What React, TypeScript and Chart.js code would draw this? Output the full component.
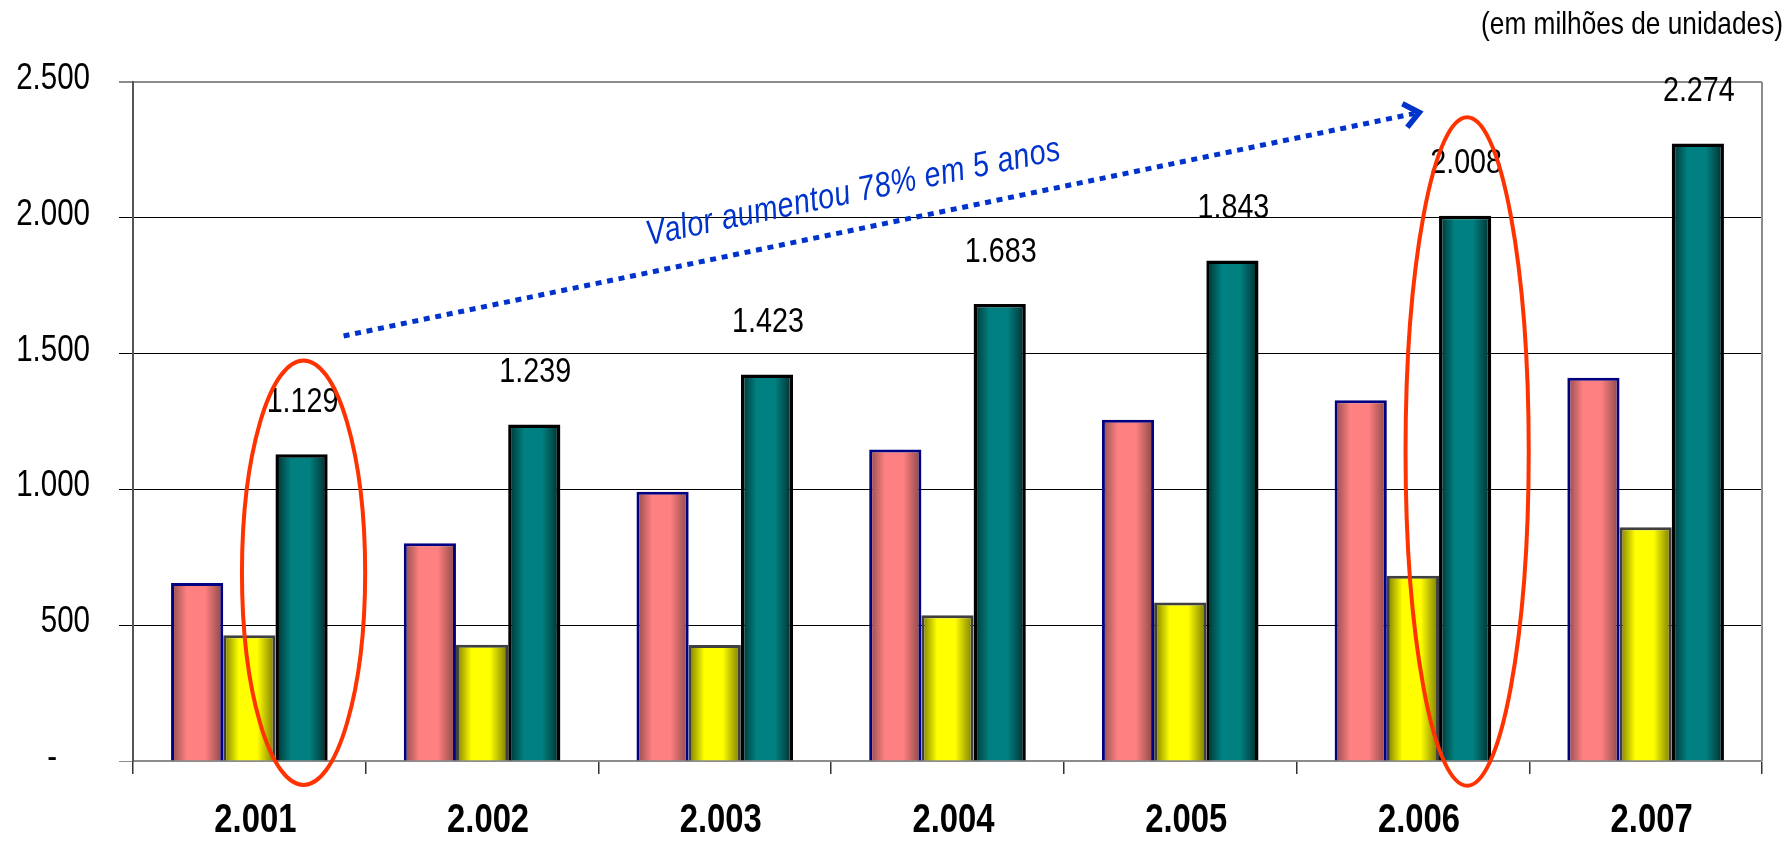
import React, { useEffect, useRef } from 'react';
import { Chart, registerables } from 'chart.js';

Chart.register(...registerables);

// ---- data ----
const years = ['2.001', '2.002', '2.003', '2.004', '2.005', '2.006', '2.007'];
const seriesPink = [655, 802, 991, 1147, 1256, 1328, 1411];
const seriesYellow = [463, 428, 427, 537, 584, 682, 861];
const seriesTeal = [1129, 1239, 1423, 1683, 1843, 2008, 2274];
const yMin = 0;
const yMax = 2500;
const yStep = 500;
const unitsNote = '(em milhões de unidades)';
const arrowNote = 'Valor aumentou 78% em 5 anos';
// annotations (category index, value)
const highlightedYears = [0, 5];
const ellipseTop = [1475, 2370];
const ellipseBottom = [-88, -91];
const arrowStart = [0.405, 1565];
const arrowEnd = [5.04, 2390];
const noteAnchor = [1.715, 1899];

const FONT = '"Liberation Sans", Arial, sans-serif';
// Liberation Sans squeezed horizontally to mimic Arial Narrow
const NARROW = 0.82;

const fmt = (n: number) => String(Math.round(n)).replace(/\B(?=(\d{3})+(?!\d))/g, '.');

const gradientColors = [
  ['#8a4a4a', '#ff8080', '#874545'],
  ['#7a7a00', '#ffff00', '#777700'],
  ['#002e2e', '#008080', '#002a2a'],
];

const narrowTextPlugin = {
  id: 'narrowText',
  beforeInit(chart: any) {
    const ctx = chart.ctx;
    const orig = ctx.fillText.bind(ctx);
    ctx.fillText = (t: string, x: number, y: number, mw?: number) => {
      const w = ctx.measureText(t).width;
      if (!w) return;
      const target = w * NARROW;
      orig(t, x, y, mw !== undefined ? Math.min(mw, target) : target);
    };
  },
};

const decoPlugin = {
  id: 'deco',
  beforeDatasetsDraw(chart: any) {
    const ctx = chart.ctx;
    chart.data.datasets.forEach((_ds: any, di: number) => {
      const meta = chart.getDatasetMeta(di);
      const [d1, b, d2] = gradientColors[di];
      meta.data.forEach((el: any) => {
        const { x, width } = el.getProps(['x', 'width'], true);
        const g = ctx.createLinearGradient(x - width / 2, 0, x + width / 2, 0);
        g.addColorStop(0, d1);
        g.addColorStop(0.3, b);
        g.addColorStop(0.65, b);
        g.addColorStop(1, d2);
        el.options = { ...el.options, backgroundColor: g };
      });
    });
  },
  afterDatasetsDraw(chart: any) {
    const ctx = chart.ctx;
    const area = chart.chartArea;
    const xs = chart.scales.x;
    const ys = chart.scales.y;

    // plot-area right border
    ctx.save();
    ctx.strokeStyle = '#8c8c8c';
    ctx.lineWidth = 2;
    ctx.beginPath();
    ctx.moveTo(area.right, area.top);
    ctx.lineTo(area.right, area.bottom);
    ctx.stroke();
    ctx.restore();

    // value labels above teal bars
    const tealMeta = chart.getDatasetMeta(2);
    ctx.save();
    ctx.font = `35px ${FONT}`;
    ctx.fillStyle = '#000';
    ctx.textAlign = 'center';
    ctx.textBaseline = 'middle';
    tealMeta.data.forEach((el: any, i: number) => {
      ctx.fillText(fmt(seriesTeal[i]), el.x + 1, el.y - 52);
    });
    ctx.restore();

    // red ellipses
    ctx.save();
    ctx.strokeStyle = '#ff3300';
    ctx.lineWidth = 4;
    highlightedYears.forEach((idx, k) => {
      const el: any = tealMeta.data[idx];
      const top = ys.getPixelForValue(ellipseTop[k]);
      const bottom = ys.getPixelForValue(ellipseBottom[k]);
      const cx = el.x + 2;
      const cy = (top + bottom) / 2;
      ctx.beginPath();
      ctx.ellipse(cx, cy, el.width * 1.18, (bottom - top) / 2, 0, 0, Math.PI * 2);
      ctx.stroke();
    });
    ctx.restore();

    // dotted arrow
    const x0 = xs.getPixelForValue(arrowStart[0]);
    const y0 = ys.getPixelForValue(arrowStart[1]);
    const x1 = xs.getPixelForValue(arrowEnd[0]);
    const y1 = ys.getPixelForValue(arrowEnd[1]);
    const ang = Math.atan2(y1 - y0, x1 - x0);
    ctx.save();
    ctx.strokeStyle = '#0033cc';
    ctx.lineWidth = 5;
    ctx.setLineDash([6, 5.7]);
    ctx.beginPath();
    ctx.moveTo(x0, y0);
    ctx.lineTo(x1 - 8 * Math.cos(ang), y1 - 8 * Math.sin(ang));
    ctx.stroke();
    ctx.setLineDash([]);
    ctx.lineWidth = 5.5;
    ctx.lineJoin = 'miter';
    const L = 19;
    const a = 0.68;
    const tx = x1 - 3 * Math.cos(ang);
    const ty = y1 - 3 * Math.sin(ang);
    ctx.beginPath();
    ctx.moveTo(tx - L * Math.cos(ang - a), ty - L * Math.sin(ang - a));
    ctx.lineTo(tx, ty);
    ctx.lineTo(tx - L * Math.cos(ang + a), ty - L * Math.sin(ang + a));
    ctx.stroke();
    ctx.restore();

    // arrow note
    ctx.save();
    ctx.translate(xs.getPixelForValue(noteAnchor[0]), ys.getPixelForValue(noteAnchor[1]));
    ctx.rotate(ang);
    ctx.font = `italic 35px ${FONT}`;
    (ctx as any).letterSpacing = '0.6px';
    ctx.fillStyle = '#0033cc';
    ctx.textAlign = 'left';
    ctx.textBaseline = 'alphabetic';
    ctx.fillText(arrowNote, 0, 0);
    ctx.restore();

    // units note
    ctx.save();
    ctx.font = `32px ${FONT}`;
    ctx.fillStyle = '#000';
    ctx.textAlign = 'right';
    ctx.textBaseline = 'alphabetic';
    ctx.fillText(unitsNote, chart.width - 6, 34);
    ctx.restore();
  },
};

export default function App() {
  const ref = useRef<HTMLCanvasElement>(null);

  useEffect(() => {
    const canvas = ref.current;
    if (!canvas) return;
    const chart = new Chart(canvas, {
      type: 'bar',
      data: {
        labels: years,
        datasets: [
          { label: 'A', data: seriesPink, backgroundColor: '#ff8080', borderColor: '#000080', borderWidth: 3 },
          { label: 'B', data: seriesYellow, backgroundColor: '#ffff00', borderColor: '#404040', borderWidth: 3 },
          { label: 'C', data: seriesTeal, backgroundColor: '#008080', borderColor: '#000000', borderWidth: 3.5 },
        ],
      },
      options: {
        responsive: false,
        animation: false,
        events: [],
        layout: { padding: { top: 82, left: 0, right: 27, bottom: 0 } },
        datasets: { bar: { categoryPercentage: 0.673, barPercentage: 1 } },
        plugins: { legend: { display: false }, tooltip: { enabled: false }, title: { display: false } },
        scales: {
          x: {
            grid: { display: true, drawOnChartArea: false, drawTicks: true, tickLength: 13, color: '#333', lineWidth: 1.5 },
            border: { display: true, color: '#8c8c8c', width: 2 },
            ticks: { color: '#000', font: { family: FONT, size: 40, weight: 'bold', lineHeight: 1 }, padding: 27, labelOffset: 6, maxRotation: 0, autoSkip: false },
            afterFit: (s: any) => { s.height = 80; },
          },
          y: {
            min: yMin,
            max: yMax,
            ticks: {
              stepSize: yStep,
              color: '#000',
              font: { family: FONT, size: 36, lineHeight: 1 },
              padding: 29,
              labelOffset: -3,
              callback: (v: any) => (Number(v) === 0 ? '-    ' : fmt(Number(v))),
            },
            grid: {
              color: (c: any) => (c.tick && (c.tick.value === yMax || c.tick.value === 0) ? '#8c8c8c' : '#000'),
              lineWidth: (c: any) => (c.tick && c.tick.value === yMax ? 2 : 1),
              tickLength: 14,
              drawTicks: true,
            },
            border: { display: true, color: '#555', width: 2 },
            afterFit: (s: any) => { s.width = 133; },
          },
        },
      },
      plugins: [narrowTextPlugin, decoPlugin],
    } as any);
    return () => chart.destroy();
  }, []);

  return (
    <div style={{ position: 'fixed', left: 0, top: 0, width: 1789, height: 841, background: '#fff' }}>
      <canvas ref={ref} width={1789} height={841} style={{ display: 'block', width: 1789, height: 841 }} />
    </div>
  );
}
